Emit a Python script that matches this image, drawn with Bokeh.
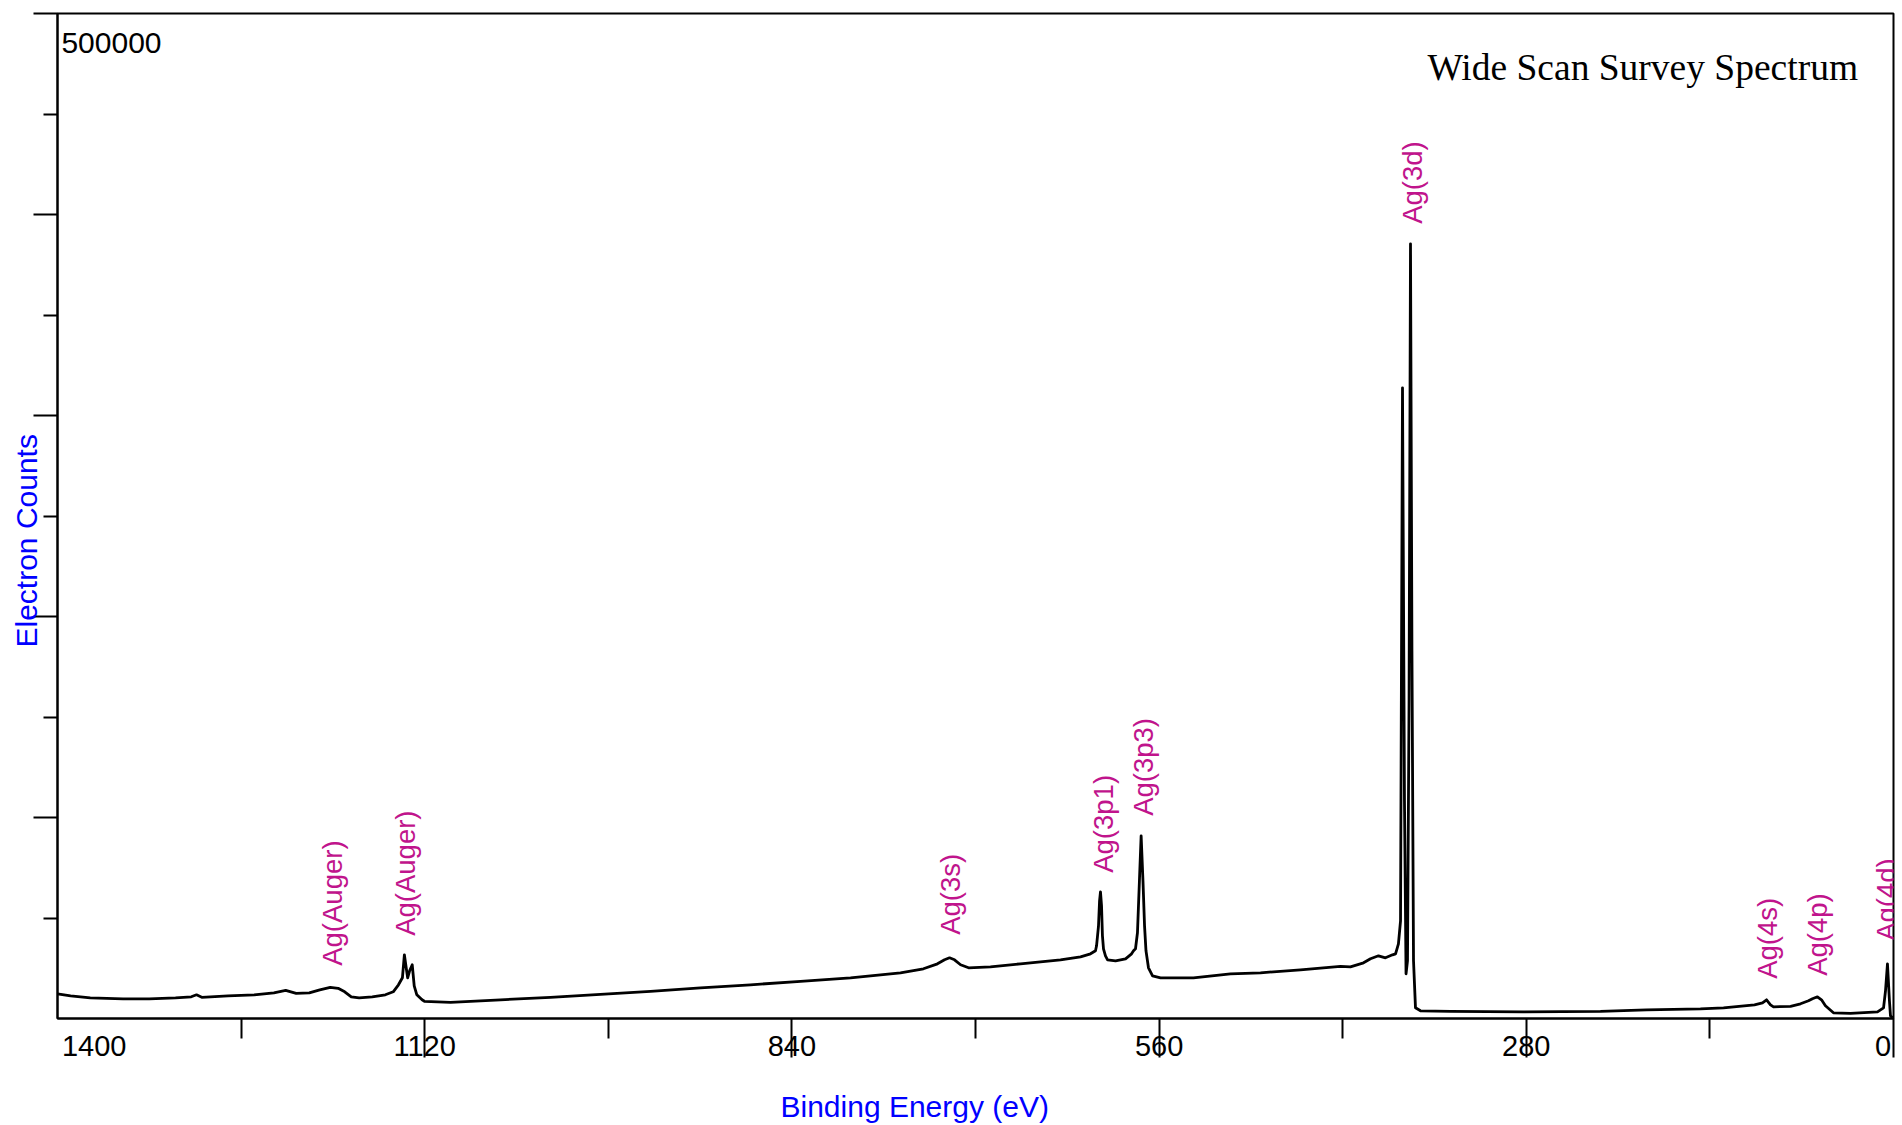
import math
from bokeh.plotting import figure
from bokeh.models import Range1d, FixedTicker, LinearAxis, Title
from bokeh.core.properties import value
from bokeh.embed import file_html
from bokeh.resources import INLINE

# ---- data (binding energy in eV, electron counts) ----
binding_energy = [
    1400, 1390, 1375, 1350, 1330, 1310, 1298, 1294, 1290, 1270, 1250, 1235, 1226, 1218,
    1208, 1200, 1192, 1186, 1181, 1176, 1170, 1160, 1150, 1144, 1140, 1137, 1135.5, 1134,
    1133, 1131.5, 1129.5, 1128, 1126, 1122, 1120.2, 1100.3, 1062.2, 1024.1, 986.0, 947.8,
    909.7, 871.6, 833.4, 795.3, 757.2, 739.7, 729.0, 723.6, 719.8, 716.0, 711.4, 705.3,
    688.6, 665.7, 642.8, 635.2, 619.9, 612.3, 608.5, 607.7, 606.2, 605.4, 604.7, 603.9,
    603.2, 602.4, 600.9, 599.3, 593.2, 585.6, 581.0, 579.5, 578.0, 576.5, 575.0, 573.7,
    572.3, 571.1, 570.0, 568.1, 565.0, 558.9, 533.8, 505.6, 482.7, 452.2, 421.7, 414.1,
    404.1, 398.8, 392.7, 387.4, 382.0, 379.7, 377.5, 375.9, 374.4, 372.9, 371.7, 370.6,
    369.4, 368.3, 367.2, 366.0, 364.5, 360.7, 337.8, 282.1, 223.4, 188.3, 147.2, 129.6,
    106.0, 99.9, 96.8, 93.8, 91.5, 78.5, 70.9, 64.8, 61.8, 58.0, 54.9, 51.9, 45.8, 32.8,
    12.2, 7.6, 6.1, 4.6, 3.1, 2.3, 0.8,
]
electron_counts = [
    12290, 11290, 10300, 9800, 9800, 10300, 10800, 11790, 10550, 11290, 11790, 12790, 14030, 12540,
    12790, 14280, 15520, 15020, 13280, 10800, 10300, 10800, 11790, 13280, 16770, 20250, 31690, 24730,
    20250, 23730, 26720, 16270, 11790, 9300, 8560, 8060, 9300, 10550, 12040, 13530,
    15270, 16770, 18510, 20250, 22740, 24730, 27210, 29200, 30200, 29200, 26720, 25220,
    25720, 27210, 28710, 29200, 30700, 32190, 33680, 36170, 46120, 58560, 63030, 56070,
    41140, 34680, 31190, 29200, 28710, 29700, 32190, 33680, 34680, 42640, 68510, 90890,
    68510, 46120, 33680, 25220, 21240, 20250, 20250, 22240, 22740, 24230, 25970, 25720,
    27710, 29700, 31190, 30200, 31690, 32190, 37160, 48610, 313770, 108300, 22240, 28710,
    158060, 385410, 182930, 28710, 5320, 3830, 3580, 3330, 3580, 4330, 4830, 5320,
    6820, 7810, 9300, 6820, 5820, 6070, 7310, 8810, 9800, 10800, 9300, 6320, 2840, 2590,
    3330, 5320, 13780, 27210, 8810, 1340, 350,
]

peak_labels = ["Ag(Auger)", "Ag(Auger)", "Ag(3s)", "Ag(3p1)", "Ag(3p3)", "Ag(3d)", "Ag(4s)", "Ag(4p)", "Ag(4d)"]
peak_label_be = [1190.3, 1134.6, 719.1, 602.4, 571.9, 366.8, 96.1, 58.0, 5.3]
peak_label_counts = [26220, 41140, 41640, 72490, 100840, 395360, 19750, 21240, 38660]

x_major_ticks = [1120, 840, 560, 280, 0]
x_minor_ticks = [1260, 980, 700, 420, 140]
# the two end labels sit just inside the axis ends in the reference
x_end_label_pos = [1372, 8]
x_end_label_txt = ["1400", "0"]
y_major_ticks = [100000, 200000, 300000, 400000, 500000]
y_minor_ticks = [50000, 150000, 250000, 350000, 450000]

title_text = "Wide Scan Survey Spectrum"
x_title = "Binding Energy (eV)"
y_title = "Electron Counts"

SANS = "Liberation Sans"
MAGENTA = "#C0148C"
BLUE = "#0000FF"

p = figure(width=1902, height=1125, output_backend="svg", toolbar_location=None, tools="",
           x_range=Range1d(1400, 0), y_range=Range1d(0, 500000),
           min_border_left=57, min_border_right=9, min_border_top=13, min_border_bottom=107)
p.background_fill_color = "white"
p.border_fill_color = "white"
p.outline_line_color = "black"
p.outline_line_width = 2
p.xgrid.visible = False
p.ygrid.visible = False

# x axis
xa = p.xaxis[0]
xa.ticker = FixedTicker(ticks=x_major_ticks, minor_ticks=x_minor_ticks)
xa.axis_line_width = 2
xa.major_tick_line_width = 2
xa.minor_tick_line_width = 2
xa.major_tick_in = 0
xa.major_tick_out = 39
xa.minor_tick_in = 0
xa.minor_tick_out = 20
xa.major_label_text_font = SANS
xa.major_label_text_font_size = "29px"
xa.major_label_text_color = "black"
xa.major_label_standoff = -22
xa.major_label_overrides = {0: ""}

# row with the two end labels (no line, no ticks)
xe = LinearAxis(ticker=FixedTicker(ticks=x_end_label_pos, minor_ticks=[]),
                major_label_overrides=dict(zip(x_end_label_pos, x_end_label_txt)),
                axis_line_color=None, major_tick_line_color=None, minor_tick_line_color=None,
                major_tick_in=0, major_tick_out=0, minor_tick_in=0, minor_tick_out=0,
                major_label_standoff=-23, major_label_text_font=SANS,
                major_label_text_font_size="29px", major_label_text_color="black")
p.add_layout(xe, "below")

# thin spacer before the x title
p.add_layout(Title(text=" ", standoff=28, text_font_size="1px"), "below")

# y axis
ya = p.yaxis[0]
ya.ticker = FixedTicker(ticks=y_major_ticks, minor_ticks=y_minor_ticks)
ya.axis_line_width = 2
ya.major_tick_line_width = 2
ya.minor_tick_line_width = 2
ya.major_tick_in = 0
ya.major_tick_out = 24
ya.minor_tick_in = 0
ya.minor_tick_out = 14
ya.major_label_standoff = 0
ya.major_label_overrides = {t: "" for t in y_major_ticks}

# axis titles
p.add_layout(Title(text=x_title, align="left", offset=723, vertical_align="top", standoff=0,
                   text_font=SANS, text_font_size="30px", text_font_style="normal",
                   text_color=BLUE), "below")
p.add_layout(Title(text=y_title, align="left", offset=371, standoff=-18,
                   text_font=SANS, text_font_size="30px", text_font_style="normal",
                   text_color=BLUE), "left")

# spectrum
p.line(binding_energy, electron_counts, line_color="black", line_width=2.8, line_join="round")

# peak annotations
p.text(x=peak_label_be, y=peak_label_counts, text=peak_labels, angle=math.pi / 2,
       text_align="left", text_baseline="middle", text_color=MAGENTA,
       text_font=value(SANS), text_font_size=value("27.5px"))

# title and top tick value inside the frame
p.text(x=[27.0], y=[473000], text=[title_text], text_align="right", text_baseline="alphabetic",
       text_color="black", text_font=value("Liberation Serif"), text_font_size=value("37.5px"))
p.text(x=[1397.0], y=[485100], text=["500000"], text_align="left", text_baseline="alphabetic",
       text_color="black", text_font=value(SANS), text_font_size=value("30px"))

open("out.html", "w").write(file_html(p, INLINE))
